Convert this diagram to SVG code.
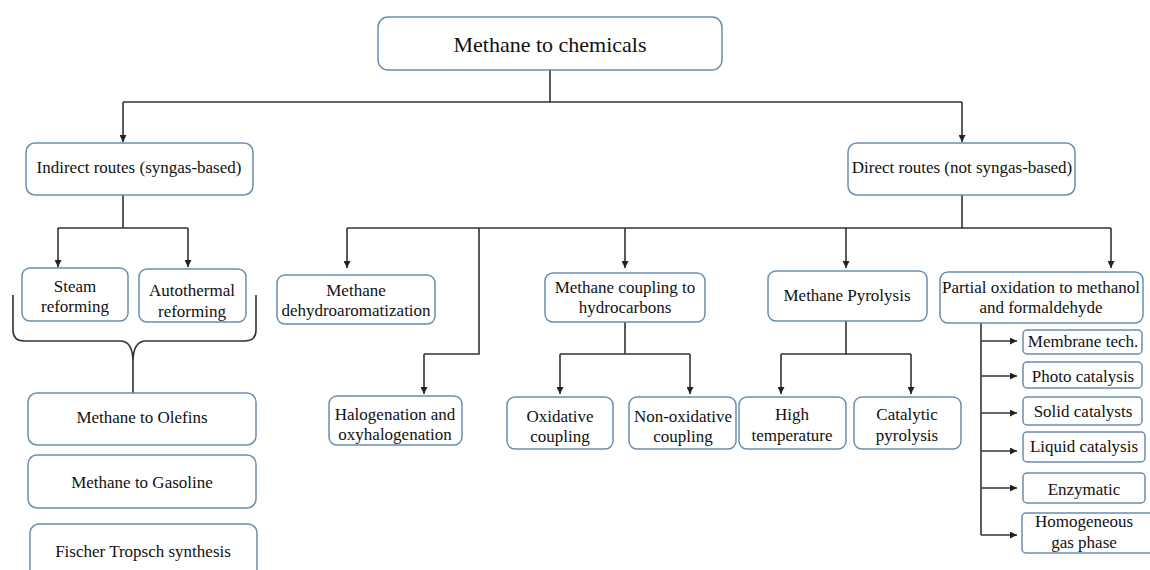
<svg xmlns="http://www.w3.org/2000/svg" width="1150" height="570" viewBox="0 0 1150 570">
<defs>
<marker id="arr" viewBox="0 0 10 10" refX="10" refY="5" markerWidth="7" markerHeight="7" markerUnits="userSpaceOnUse" orient="auto">
<path d="M0,0 L10,5 L0,10 z" fill="#222"/>
</marker>
<style>
.box{fill:#fff;stroke:#6a8db3;stroke-width:1.5}
.t{font-family:"Liberation Serif","Times New Roman",serif;font-size:17px;fill:#111;text-anchor:middle}
.big{font-size:22px}
.ln{fill:none;stroke:#333;stroke-width:1.6}
.ar{fill:none;stroke:#333;stroke-width:1.6;marker-end:url(#arr)}
</style>
</defs>
<rect width="1150" height="570" fill="#fff"/>

<g id="connectors">
<path class="ln" d="M550,70 V102 M123,102 H962"/>
<path class="ar" d="M123,102 V142"/>
<path class="ar" d="M962,102 V142"/>
<path class="ln" d="M123,195 V228 M58,228 H188"/>
<path class="ar" d="M58,228 V267"/>
<path class="ar" d="M188,228 V267"/>
<path class="ln" d="M13,295 V330 Q13,341 24,341 H120 Q133,341 133,362 Q133,341 146,341 H245 Q256,341 256,330 V295 M133,360 V393"/>
<path class="ln" d="M962,195 V228 M347,228 H1111"/>
<path class="ar" d="M347,228 V268"/>
<path class="ar" d="M625,228 V268"/>
<path class="ar" d="M846,228 V268"/>
<path class="ar" d="M1111,228 V268"/>
<path class="ln" d="M479,228 V354 H424"/>
<path class="ar" d="M424,354 V394"/>
<path class="ln" d="M625,322 V354 M560,354 H690"/>
<path class="ar" d="M560,354 V394"/>
<path class="ar" d="M690,354 V394"/>
<path class="ln" d="M846,321 V354 M781,354 H911"/>
<path class="ar" d="M781,354 V394"/>
<path class="ar" d="M911,354 V394"/>
<path class="ln" d="M981,323 V535"/>
<path class="ar" d="M981,341 H1017"/>
<path class="ar" d="M981,376 H1017"/>
<path class="ar" d="M981,413 H1017"/>
<path class="ar" d="M981,451 H1017"/>
<path class="ar" d="M981,488 H1017"/>
<path class="ar" d="M981,535 H1017"/>
</g>

<g id="root"><rect class="box" x="378" y="17" width="344" height="53" rx="10"/><text class="t big" x="550" y="52">Methane to chemicals</text></g>
<g id="indirect"><rect class="box" x="26" y="143" width="227" height="52" rx="9"/><text class="t" x="139" y="173">Indirect routes (syngas-based)</text></g>
<g id="direct"><rect class="box" x="848" y="143" width="227" height="52" rx="9"/><text class="t" x="962" y="173">Direct routes (not syngas-based)</text></g>

<g id="steam"><rect class="box" x="22" y="268" width="106" height="53" rx="8"/><text class="t" x="75" y="292">Steam</text><text class="t" x="75" y="312">reforming</text></g>
<g id="autothermal"><rect class="box" x="139" y="269" width="107" height="53" rx="8"/><text class="t" x="192" y="296">Autothermal</text><text class="t" x="192" y="317">reforming</text></g>

<g id="olefins"><rect class="box" x="28" y="393" width="228" height="52" rx="9"/><text class="t" x="142" y="423">Methane to Olefins</text></g>
<g id="gasoline"><rect class="box" x="28" y="455" width="228" height="53" rx="9"/><text class="t" x="142" y="488">Methane to Gasoline</text></g>
<g id="fischer"><rect class="box" x="30" y="524" width="227" height="60" rx="9"/><text class="t" x="143" y="557">Fischer Tropsch synthesis</text></g>

<g id="dehydro"><rect class="box" x="277" y="275" width="158" height="49" rx="8"/><text class="t" x="356" y="296">Methane</text><text class="t" x="356" y="316">dehydroaromatization</text></g>
<g id="halogenation"><rect class="box" x="329" y="396" width="133" height="49" rx="8"/><text class="t" x="395" y="420">Halogenation and</text><text class="t" x="395" y="440">oxyhalogenation</text></g>

<g id="coupling"><rect class="box" x="545" y="273" width="160" height="49" rx="8"/><text class="t" x="625" y="293">Methane coupling to</text><text class="t" x="625" y="313">hydrocarbons</text></g>
<g id="oxidative"><rect class="box" x="507" y="397" width="106" height="52" rx="8"/><text class="t" x="560" y="422">Oxidative</text><text class="t" x="560" y="442">coupling</text></g>
<g id="nonoxidative"><rect class="box" x="629" y="397" width="107" height="52" rx="8"/><text class="t" x="683" y="422">Non-oxidative</text><text class="t" x="683" y="442">coupling</text></g>

<g id="pyrolysis"><rect class="box" x="768" y="271" width="159" height="50" rx="8"/><text class="t" x="847" y="301">Methane Pyrolysis</text></g>
<g id="hightemp"><rect class="box" x="739" y="397" width="107" height="52" rx="8"/><text class="t" x="792" y="420">High</text><text class="t" x="792" y="441">temperature</text></g>
<g id="catalytic"><rect class="box" x="854" y="397" width="107" height="52" rx="8"/><text class="t" x="907" y="420">Catalytic</text><text class="t" x="907" y="441">pyrolysis</text></g>

<g id="partial"><rect class="box" x="940" y="272" width="203" height="51" rx="8"/><text class="t" x="1041" y="293">Partial oxidation to methanol</text><text class="t" x="1041" y="313">and formaldehyde</text></g>
<g id="membrane"><rect class="box" x="1023" y="330" width="119" height="24" rx="4"/><text class="t" x="1083" y="347">Membrane tech.</text></g>
<g id="photo"><rect class="box" x="1023" y="362" width="119" height="26" rx="4"/><text class="t" x="1083" y="382">Photo catalysis</text></g>
<g id="solid"><rect class="box" x="1023" y="397" width="119" height="28" rx="4"/><text class="t" x="1083" y="417">Solid catalysts</text></g>
<g id="liquid"><rect class="box" x="1023" y="432" width="122" height="30" rx="4"/><text class="t" x="1084" y="452">Liquid catalysis</text></g>
<g id="enzymatic"><rect class="box" x="1023" y="473" width="122" height="30" rx="4"/><text class="t" x="1084" y="495">Enzymatic</text></g>
<g id="homogeneous"><rect class="box" x="1022" y="513" width="134" height="40" rx="4"/><text class="t" x="1084" y="527">Homogeneous</text><text class="t" x="1084" y="548">gas phase</text></g>
</svg>
